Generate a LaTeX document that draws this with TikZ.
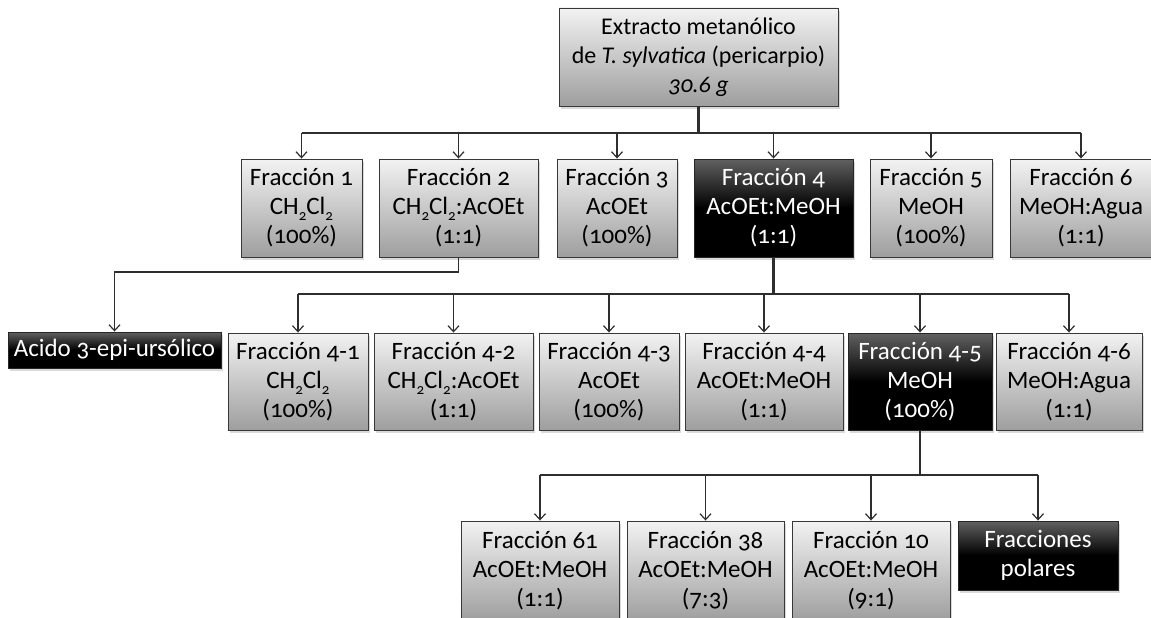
\documentclass[tikz,border=0pt]{standalone}
\usepackage{fontspec}
\setmainfont{Carlito}[Numbers=OldStyle]
\usetikzlibrary{arrows.meta,shadows}

\newcommand\boxfont{\fontsize{25}{29}\selectfont}
\newcommand\headfont{\fontsize{24}{28.8}\selectfont}
\newcommand\sub[1]{\raisebox{-0.5ex}{\fontsize{15}{15}\selectfont #1}}

\tikzset{
  box/.style={draw=black!78, line width=0.9pt, top color=black!5, bottom color=black!38,
    drop shadow={shadow xshift=2pt, shadow yshift=-3pt, opacity=0.3},
    align=center, inner sep=0pt, font=\boxfont, text=black},
  darkbox/.style={box, top color=black!62, bottom color=black, middle color=black,
    draw=black!85, text=white},
  link/.style={draw=black!82, line width=1.3pt},
  trunk/.style={draw=black!82, line width=2.8pt},
  arr/.style={link, -{Straight Barb[length=6pt, width=11pt, line width=1.2pt]}},
}

\begin{document}
\begin{tikzpicture}[x=1pt, y=-1pt]
\useasboundingbox (0,0) rectangle (1151,618);
\clip (0,0) rectangle (1151,618);

% extract
\node[box, font=\headfont, minimum width=279pt, minimum height=98pt] (ext) at (698.5,57)
  {Extracto metanólico\\de \textit{T. sylvatica} (pericarpio)\\\textit{30.6 g}};

% first column fractions
\node[box, minimum width=121pt, minimum height=98pt] (f1) at (301.5,208)
  {Fracción 1\\CH\sub{2}Cl\sub{2}\\(100\%)};
\node[box, minimum width=159pt, minimum height=98pt] (f2) at (458.5,208)
  {Fracción 2\\CH\sub{2}Cl\sub{2}:AcOEt\\(1:1)};
\node[box, minimum width=120pt, minimum height=98pt] (f3) at (617,208)
  {Fracción 3\\AcOEt\\(100\%)};
\node[darkbox, minimum width=159pt, minimum height=98pt] (f4) at (773.5,208)
  {Fracción 4\\AcOEt:MeOH\\(1:1)};
\node[box, minimum width=122pt, minimum height=98pt] (f5) at (931,208)
  {Fracción 5\\MeOH\\(100\%)};
\node[box, minimum width=142pt, minimum height=98pt] (f6) at (1081,208)
  {Fracción 6\\MeOH:Agua\\(1:1)};

% compound isolated from fraction 2
\node[darkbox, minimum width=213pt, minimum height=36pt] (acido) at (114.5,350)
  {Acido 3-epi-ursólico};

% subfractions of fraction 4
\node[box, minimum width=140pt, minimum height=97pt] (f41) at (298,381.5)
  {Fracción 4-1\\CH\sub{2}Cl\sub{2}\\(100\%)};
\node[box, minimum width=159pt, minimum height=97pt] (f42) at (453.5,381.5)
  {Fracción 4-2\\CH\sub{2}Cl\sub{2}:AcOEt\\(1:1)};
\node[box, minimum width=140pt, minimum height=97pt] (f43) at (609,381.5)
  {Fracción 4-3\\AcOEt\\(100\%)};
\node[box, minimum width=158pt, minimum height=97pt] (f44) at (764,381.5)
  {Fracción 4-4\\AcOEt:MeOH\\(1:1)};
\node[darkbox, minimum width=144pt, minimum height=97pt] (f45) at (920,381.5)
  {Fracción 4-5\\MeOH\\(100\%)};
\node[box, minimum width=146pt, minimum height=97pt] (f46) at (1069,381.5)
  {Fracción 4-6\\MeOH:Agua\\(1:1)};

% subfractions of fraction 4-5
\node[box, minimum width=158pt, minimum height=100pt] (g61) at (540,571)
  {Fracción 61\\AcOEt:MeOH\\(1:1)};
\node[box, minimum width=157pt, minimum height=100pt] (g38) at (705.5,571)
  {Fracción 38\\AcOEt:MeOH\\(7:3)};
\node[box, minimum width=158pt, minimum height=100pt] (g10) at (871,571)
  {Fracción 10\\AcOEt:MeOH\\(9:1)};
\node[darkbox, minimum width=160pt, minimum height=69pt] (pol) at (1038,555.5)
  {Fracciones\\polares};

% bus levels
\coordinate (b1) at (698.5,133);
\coordinate (b2) at (773.5,294);
\coordinate (b3) at (920,475);
\coordinate (b0) at (458.5,272);

% extract -> first fractions
\draw[trunk] (ext.south) -- (b1);
\draw[link] (b1 -| f1.north) -- (b1 -| f6.north);
\foreach \n in {f1,f2,f3,f4,f5,f6}
  \draw[arr] (b1 -| \n.north) -- (\n.north);

% fraction 2 -> acid
\draw[arr] (f2.south) -- (b0) -| (acido.north);

% fraction 4 -> subfractions
\draw[trunk] (f4.south) -- (b2);
\draw[link] (b2 -| f41.north) -- (b2 -| f46.north);
\foreach \n in {f41,f42,f43,f44,f45,f46}
  \draw[arr] (b2 -| \n.north) -- (\n.north);

% fraction 4-5 -> subfractions
\draw[trunk] (f45.south) -- (b3);
\draw[link] (b3 -| g61.north) -- (b3 -| pol.north);
\foreach \n in {g61,g38,g10,pol}
  \draw[arr] (b3 -| \n.north) -- (\n.north);
\end{tikzpicture}
\end{document}
